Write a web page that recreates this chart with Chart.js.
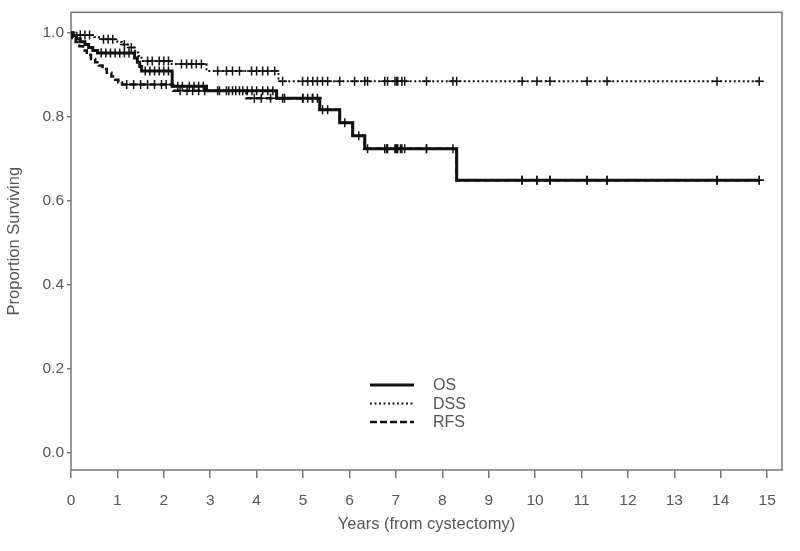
<!DOCTYPE html>
<html>
<head>
<meta charset="utf-8">
<script src="https://cdn.jsdelivr.net/npm/chart.js@4/dist/chart.umd.min.js"></script>
<style>
  body { margin: 0; background: #fff; }
  canvas { display: block; }
</style>
</head>
<body>
<canvas id="km-chart" width="800" height="551"></canvas>
<script>
// axis ticks
const xTicks = [0, 1, 2, 3, 4, 5, 6, 7, 8, 9, 10, 11, 12, 13, 14, 15];
const yTicks = [0, 0.2, 0.4, 0.6, 0.8, 1.0];

// Kaplan-Meier rows: [years, proportion surviving, censored (1) or event (0)]
const osRows = [
    [0, 1, 0], [0.05, 0.993, 0], [0.12, 0.986, 0], [0.2, 0.979, 0], [0.3, 0.972, 0],
    [0.38, 0.965, 0], [0.47, 0.958, 0], [0.57, 0.952, 0],
    [0.65, 0.952, 1], [0.75, 0.952, 1], [0.85, 0.952, 1], [0.95, 0.952, 1],
    [1.05, 0.952, 1], [1.15, 0.952, 1], [1.25, 0.952, 1],
    [1.37, 0.94, 0], [1.43, 0.93, 0], [1.48, 0.92, 0], [1.52, 0.909, 0],
    [1.6, 0.909, 1], [1.7, 0.909, 1], [1.8, 0.909, 1], [1.9, 0.909, 1], [2.0, 0.909, 1], [2.1, 0.909, 1],
    [2.18, 0.873, 0],
    [2.3, 0.873, 1], [2.4, 0.873, 1], [2.55, 0.873, 1], [2.65, 0.873, 1], [2.75, 0.873, 1], [2.85, 0.873, 1],
    [2.92, 0.862, 0],
    [3.16, 0.862, 1], [3.35, 0.862, 1], [3.48, 0.862, 1], [3.63, 0.862, 1], [3.8, 0.862, 1],
    [3.9, 0.862, 1], [4.0, 0.862, 1], [4.13, 0.862, 1], [4.24, 0.862, 1], [4.35, 0.862, 1],
    [4.43, 0.844, 0],
    [4.56, 0.844, 1], [4.99, 0.844, 1], [5.1, 0.844, 1], [5.21, 0.844, 1], [5.31, 0.844, 1],
    [5.36, 0.817, 0], [5.42, 0.817, 1], [5.53, 0.817, 1],
    [5.79, 0.786, 0], [5.9, 0.786, 1],
    [6.07, 0.755, 0], [6.2, 0.755, 1],
    [6.33, 0.724, 0],
    [6.39, 0.724, 1], [6.76, 0.724, 1], [6.82, 0.724, 1], [6.98, 0.724, 1], [7.02, 0.724, 1],
    [7.04, 0.724, 1], [7.13, 0.724, 1], [7.19, 0.724, 1], [7.66, 0.724, 1], [8.23, 0.724, 1],
    [8.31, 0.649, 0],
    [9.72, 0.649, 1], [10.04, 0.649, 1], [10.32, 0.649, 1], [11.12, 0.649, 1],
    [11.55, 0.649, 1], [13.92, 0.649, 1], [14.83, 0.649, 1]
];

const dssRows = [
    [0, 1, 0], [0.12, 0.995, 0], [0.2, 0.995, 1], [0.3, 0.995, 1], [0.4, 0.995, 1],
    [0.5, 0.99, 0], [0.6, 0.985, 0], [0.7, 0.985, 1], [0.8, 0.985, 1], [0.9, 0.985, 1],
    [1.0, 0.978, 0], [1.1, 0.972, 0], [1.15, 0.972, 1], [1.25, 0.965, 0], [1.3, 0.965, 1],
    [1.38, 0.953, 0], [1.45, 0.945, 0], [1.52, 0.933, 0],
    [1.65, 0.933, 1], [1.75, 0.933, 1], [1.9, 0.933, 1], [2.0, 0.933, 1], [2.1, 0.933, 1],
    [2.17, 0.926, 0],
    [2.38, 0.926, 1], [2.49, 0.926, 1], [2.6, 0.926, 1], [2.7, 0.926, 1], [2.81, 0.926, 1],
    [2.92, 0.909, 0],
    [3.16, 0.909, 1], [3.35, 0.909, 1], [3.48, 0.909, 1], [3.63, 0.909, 1], [3.89, 0.909, 1],
    [4.0, 0.909, 1], [4.13, 0.909, 1], [4.24, 0.909, 1], [4.39, 0.909, 1],
    [4.47, 0.885, 0],
    [4.56, 0.885, 1], [4.99, 0.885, 1], [5.1, 0.885, 1], [5.21, 0.885, 1], [5.31, 0.885, 1],
    [5.42, 0.885, 1], [5.53, 0.885, 1], [5.79, 0.885, 1], [6.11, 0.885, 1], [6.33, 0.885, 1],
    [6.39, 0.885, 1], [6.76, 0.885, 1], [6.82, 0.885, 1], [6.98, 0.885, 1], [7.02, 0.885, 1],
    [7.04, 0.885, 1], [7.13, 0.885, 1], [7.19, 0.885, 1], [7.66, 0.885, 1], [8.23, 0.885, 1],
    [8.31, 0.885, 1], [9.72, 0.885, 1], [10.04, 0.885, 1], [10.32, 0.885, 1], [11.12, 0.885, 1],
    [11.55, 0.885, 1], [13.92, 0.885, 1], [14.83, 0.885, 1]
];

const rfsRows = [
    [0, 1, 0], [0.03, 0.988, 0], [0.1, 0.978, 0], [0.18, 0.968, 0], [0.26, 0.958, 0],
    [0.34, 0.948, 0], [0.43, 0.938, 0], [0.52, 0.93, 0], [0.6, 0.922, 0], [0.68, 0.914, 0],
    [0.77, 0.905, 0], [0.87, 0.896, 0], [0.95, 0.888, 0], [1.02, 0.882, 0], [1.1, 0.877, 0],
    [1.2, 0.877, 1], [1.35, 0.877, 1], [1.5, 0.877, 1], [1.65, 0.877, 1], [1.8, 0.877, 1],
    [1.95, 0.877, 1], [2.05, 0.877, 1],
    [2.2, 0.862, 0],
    [2.35, 0.862, 1], [2.5, 0.862, 1], [2.62, 0.862, 1], [2.75, 0.862, 1], [2.88, 0.862, 1],
    [3.2, 0.862, 1], [3.4, 0.862, 1], [3.55, 0.862, 1], [3.7, 0.862, 1],
    [3.78, 0.844, 0],
    [3.95, 0.844, 1], [4.1, 0.844, 1], [4.3, 0.844, 1], [4.6, 0.844, 1], [5.0, 0.844, 1], [5.2, 0.844, 1],
    [5.36, 0.817, 0], [5.79, 0.786, 0], [6.07, 0.755, 0], [6.33, 0.724, 0],
    [6.8, 0.724, 1], [7.0, 0.724, 1], [7.1, 0.724, 1], [7.66, 0.724, 1],
    [8.31, 0.649, 0],
    [9.72, 0.649, 1], [10.04, 0.649, 1], [10.32, 0.649, 1], [11.12, 0.649, 1],
    [11.55, 0.649, 1], [13.92, 0.649, 1], [14.83, 0.649, 1]
];

const INK = '#111';
const AXIS = '#777';
const TEXT = '#555';
const FONT = 'Liberation Sans, Arial, sans-serif';

function kmDataset(label, rows, width, dash) {
    return {
        label: label,
        data: rows.map(r => ({ x: r[0], y: r[1] })),
        borderColor: INK,
        backgroundColor: INK,
        borderWidth: width,
        borderDash: dash,
        stepped: 'before',
        fill: false,
        pointStyle: 'cross',
        pointRadius: rows.map(r => r[2] ? 4.5 : 0),
        pointBorderWidth: 1.5,
        pointBorderColor: INK,
        pointHoverRadius: 0
    };
}

// draws the box around the plot
const frame = {
    id: 'frame',
    beforeDatasetsDraw(chart) {
        const { ctx, chartArea: a } = chart;
        ctx.save();
        ctx.strokeStyle = AXIS;
        ctx.lineWidth = 1.5;
        ctx.strokeRect(a.left, a.top, a.right - a.left, a.bottom - a.top);
        ctx.restore();
    }
};

// legend inside the plot, bottom middle
const kmLegend = {
    id: 'kmLegend',
    afterDraw(chart) {
        const ctx = chart.ctx;
        ctx.save();
        chart.data.datasets.forEach((ds, i) => {
            const y = 385 + i * 18.5;
            ctx.strokeStyle = INK;
            ctx.lineWidth = ds.borderWidth;
            ctx.setLineDash(ds.borderDash);
            ctx.beginPath();
            ctx.moveTo(370, y);
            ctx.lineTo(414, y);
            ctx.stroke();
            ctx.setLineDash([]);
            ctx.fillStyle = TEXT;
            ctx.font = '16px ' + FONT;
            ctx.textBaseline = 'middle';
            ctx.fillText(ds.label, 433, y + 1);
        });
        ctx.restore();
    }
};

new Chart(document.getElementById('km-chart'), {
    type: 'line',
    data: {
        datasets: [
            kmDataset('OS', osRows, 3, []),
            kmDataset('DSS', dssRows, 2, [2, 2.5]),
            kmDataset('RFS', rfsRows, 2.5, [7, 3])
        ]
    },
    options: {
        responsive: false,
        animation: false,
        layout: { padding: { top: 11, right: 18, bottom: 0, left: 0 } },
        plugins: {
            legend: { display: false },
            tooltip: { enabled: false }
        },
        scales: {
            x: {
                type: 'linear',
                min: 0,
                max: 15.32,
                afterBuildTicks: s => { s.ticks = xTicks.map(v => ({ value: v })); },
                afterFit: s => { s.height = 81; },
                border: { display: false },
                grid: { drawOnChartArea: false, drawTicks: true, tickLength: 8, color: AXIS, lineWidth: 1.5 },
                ticks: { color: TEXT, font: { family: FONT, size: 15.5 }, padding: 13, maxRotation: 0 },
                title: {
                    display: true,
                    text: 'Years (from cystectomy)',
                    color: TEXT,
                    font: { family: FONT, size: 16.5 },
                    padding: { top: 0, bottom: 17 }
                }
            },
            y: {
                min: -0.0415,
                max: 1.049,
                afterBuildTicks: s => { s.ticks = yTicks.map(v => ({ value: v })); },
                afterFit: s => { s.width = 71; },
                border: { display: false },
                grid: { drawOnChartArea: false, drawTicks: true, tickLength: 4, color: AXIS, lineWidth: 1.5 },
                ticks: {
                    color: TEXT,
                    font: { family: FONT, size: 15.5 },
                    padding: 3,
                    callback: v => v.toFixed(1)
                },
                title: {
                    display: true,
                    text: 'Proportion Surviving',
                    color: TEXT,
                    font: { family: FONT, size: 16.5 },
                    padding: { top: 5, bottom: 0 }
                }
            }
        }
    },
    plugins: [frame, kmLegend]
});
</script>
</body>
</html>
